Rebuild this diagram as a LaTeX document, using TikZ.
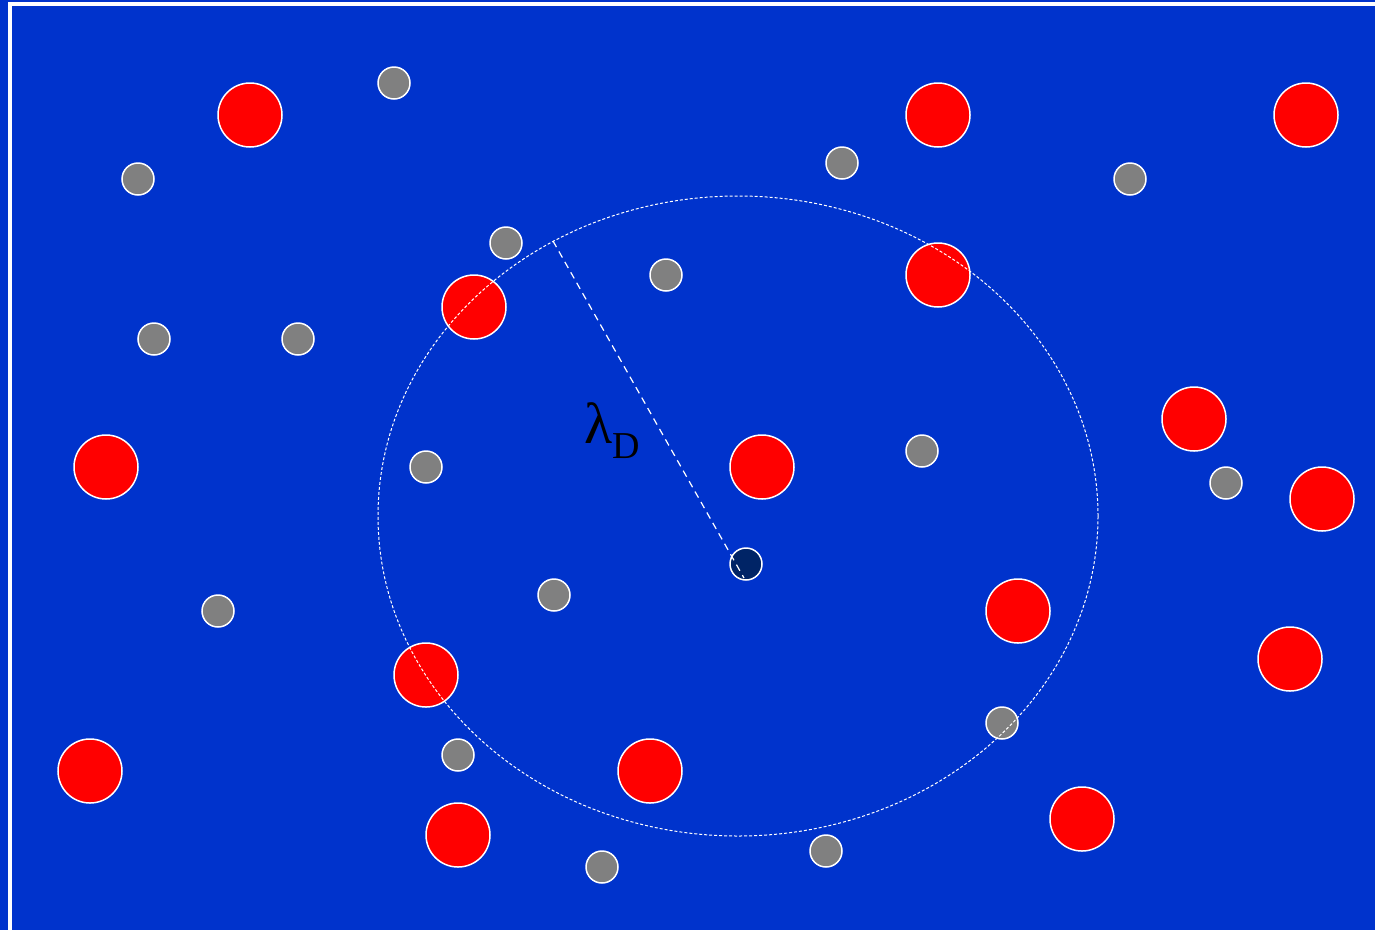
\documentclass[tikz,border=0pt]{standalone}
\usepackage{fontspec}
\usepackage{tikz}
\usetikzlibrary{shapes.geometric}

\newfontfamily\greekfont{Liberation Serif}
\definecolor{plasma}{HTML}{0033CC}
\definecolor{probe}{HTML}{002466}
\definecolor{neutral}{HTML}{808080}

\begin{document}
\begin{tikzpicture}[x=1pt,y=-1pt,
	ion/.style={draw=white,line width=1.5pt,fill=red,shape=circle,minimum size=64pt,inner sep=0pt},
	atom/.style={draw=white,line width=1.5pt,fill=neutral,shape=circle,minimum size=32pt,inner sep=0pt},
	charge/.style={draw=white,line width=1.5pt,fill=probe,shape=circle,minimum size=32pt,inner sep=0pt}]
	\clip (0,0) rectangle (1375,930);
	\fill[plasma] (0,0) rectangle (1375,930);
	\draw[white,line width=4pt] (10,4) rectangle (1400,960);
	
	\draw (250,115) node(I1) [ion] {};
	\draw (938,115) node(I2) [ion] {};
	\draw (1306,115) node(I3) [ion] {};
	\draw (938,275) node(I4) [ion] {};
	\draw (474,307) node(I5) [ion] {};
	\draw (1194,419) node(I6) [ion] {};
	\draw (106,467) node(I7) [ion] {};
	\draw (762,467) node(I8) [ion] {};
	\draw (1322,499) node(I9) [ion] {};
	\draw (1018,611) node(I10) [ion] {};
	\draw (1290,659) node(I11) [ion] {};
	\draw (426,675) node(I12) [ion] {};
	\draw (90,771) node(I13) [ion] {};
	\draw (650,771) node(I14) [ion] {};
	\draw (458,835) node(I15) [ion] {};
	\draw (1082,819) node(I16) [ion] {};
	
	\draw (394,83) node(N1) [atom] {};
	\draw (138,179) node(N2) [atom] {};
	\draw (842,163) node(N3) [atom] {};
	\draw (1130,179) node(N4) [atom] {};
	\draw (506,243) node(N5) [atom] {};
	\draw (666,275) node(N6) [atom] {};
	\draw (154,339) node(N7) [atom] {};
	\draw (298,339) node(N8) [atom] {};
	\draw (426,467) node(N9) [atom] {};
	\draw (922,451) node(N10) [atom] {};
	\draw (1226,483) node(N11) [atom] {};
	\draw (554,595) node(N12) [atom] {};
	\draw (218,611) node(N13) [atom] {};
	\draw (1002,723) node(N14) [atom] {};
	\draw (458,755) node(N15) [atom] {};
	\draw (826,851) node(N16) [atom] {};
	\draw (602,867) node(N17) [atom] {};
	
	\draw (746,564) node(Q) [charge] {};
	
	% Debye sphere
	\draw (738,516) node(sphere) [draw=white,line width=1pt,dash pattern=on 3pt off 2pt,shape=ellipse,minimum width=720pt,minimum height=640pt,inner sep=0pt] {};
	\coordinate (rim) at (553,241);
	\coordinate (tail) at (744,578);
	\draw[white,line width=1.2pt,dash pattern=on 7pt off 5pt] (rim) -- (tail);
	\node (lab) [anchor=base west,inner sep=0pt] at (584,443) {\greekfont\fontsize{58}{64}\selectfont λ\raisebox{-15pt}{\fontsize{38}{44}\selectfont D}};
\end{tikzpicture}
\end{document}
